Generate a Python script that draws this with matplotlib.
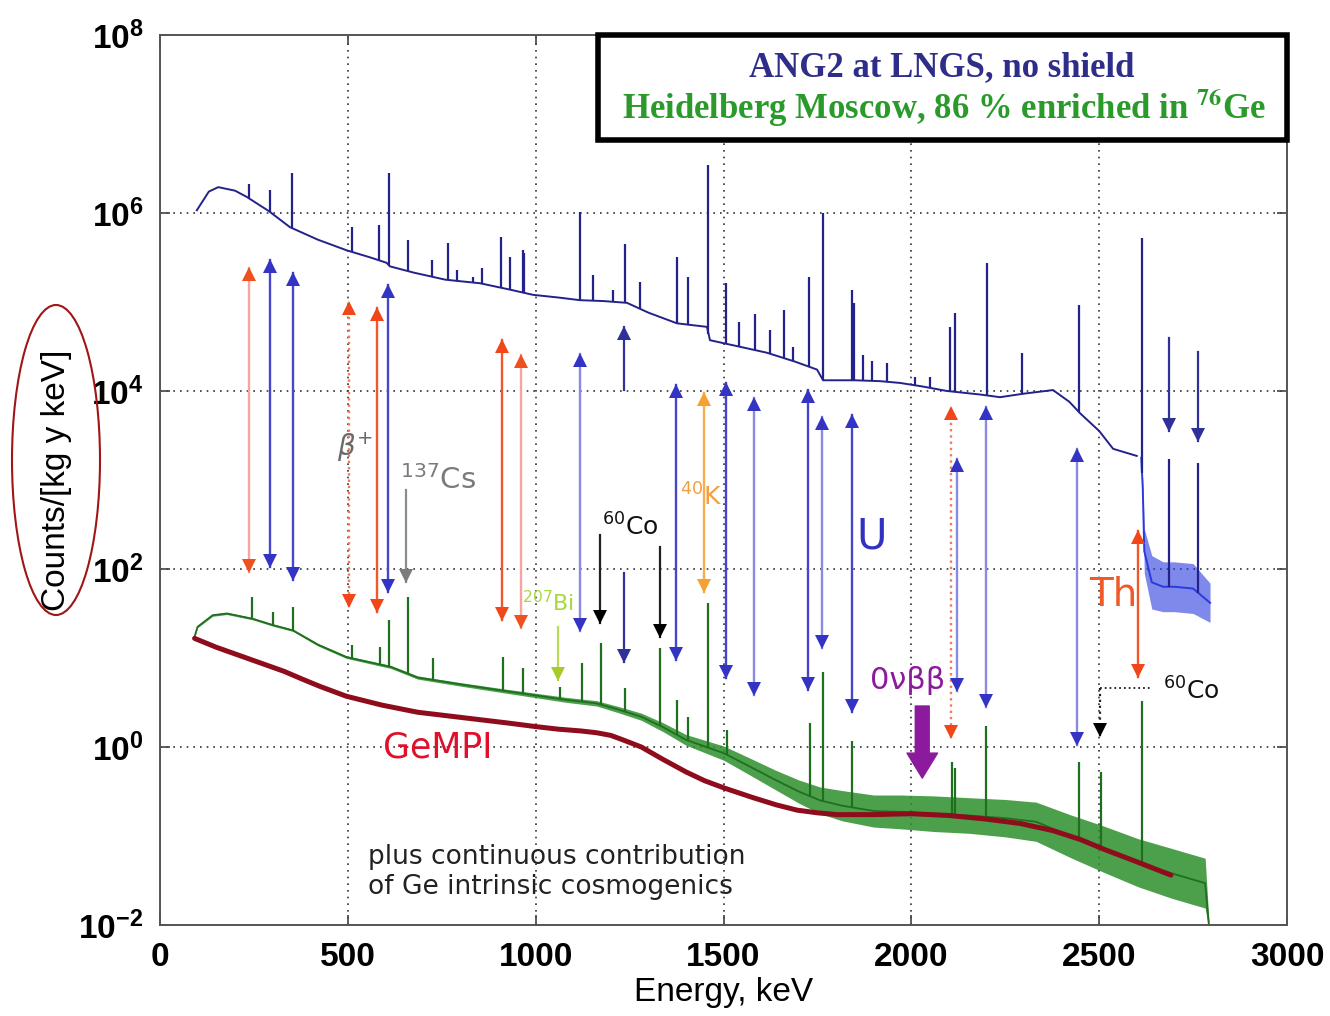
"""
Ge gamma spectra: ANG2 at LNGS (no shield) vs Heidelberg-Moscow, with the
GeMPI background curve and the usual line identifications.
Values are log10(counts / [kg y keV]) read off the original figure.
"""

import matplotlib
matplotlib.use("Agg")
import matplotlib.pyplot as plt
import numpy as np
from matplotlib.patches import Ellipse, Rectangle
from matplotlib.transforms import offset_copy


# ---- ANG2, no shield (blue) ------------------------------------------------
BLUE_CONT_E = [98, 130, 155, 200, 231, 290, 346, 420, 497, 560, 603, 612, 675,
               760, 852, 930, 993, 1060, 1118, 1180, 1243, 1300, 1376, 1456,
               1464, 1540, 1615, 1690, 1749, 1765, 1850, 1917, 1970, 2030, 2094,
               2183, 2236, 2300, 2377, 2420, 2449, 2500, 2537, 2600, 2612,
               2616, 2620, 2640, 2670, 2700, 2750, 2795]
BLUE_CONT_LOG = [6.03, 6.24, 6.29, 6.25, 6.18, 6.02, 5.84, 5.70, 5.58, 5.50,
                 5.44, 5.40, 5.33, 5.25, 5.21, 5.14, 5.08, 5.05, 5.02, 5.01,
                 4.99, 4.88, 4.76, 4.72, 4.57, 4.50, 4.43, 4.33, 4.24, 4.12,
                 4.12, 4.11, 4.09, 4.05, 4.00, 3.96, 3.93, 3.97, 4.01, 3.88,
                 3.75, 3.55, 3.35, 3.27, 3.25,
                 2.90, 2.20, 1.85, 1.80, 1.80, 1.78, 1.62]
BLUE_NOISE = [0.0] * 45 + [0.10, 0.25, 0.30, 0.28, 0.28, 0.28, 0.22]
BLUE_PEAK_E = [237, 293, 351, 511, 583, 609, 660, 725, 766, 790, 834, 857, 909,
               932, 965, 970, 1118, 1153, 1206, 1238, 1278, 1376, 1406, 1460,
               1507, 1540, 1584, 1624, 1660, 1686, 1728, 1764, 1842, 1848, 1872,
               1894, 1935, 2010, 2050, 2103, 2116, 2201, 2295, 2447, 2614,
               2686, 2763]
BLUE_PEAK_LOG = [6.32, 6.26, 6.45, 5.84, 5.87, 6.45, 5.70, 5.47, 5.66, 5.36,
                 5.28, 5.38, 5.73, 5.51, 5.58, 5.55, 6.01, 5.30, 5.13, 5.65,
                 5.22, 5.51, 5.28, 6.54, 5.21, 4.78, 4.87, 4.69, 4.91, 4.49,
                 5.28, 6.00, 5.13, 4.99, 4.40, 4.34, 4.31, 4.16, 4.16, 4.72,
                 4.88, 5.44, 4.43, 4.97, 5.72, 3.24, 3.19]

# ---- Heidelberg-Moscow (green) ---------------------------------------------
GREEN_CONT_E = [92, 100, 140, 178, 247, 300, 354, 420, 496, 560, 614, 686, 805,
                900, 998, 1080, 1162, 1220, 1281, 1340, 1400, 1501, 1570, 1638,
                1700, 1757, 1816, 1900, 1973, 2060, 2153, 2250, 2332, 2422,
                2513, 2603, 2693, 2782, 2792]
GREEN_CONT_LOG = [1.24, 1.35, 1.48, 1.50, 1.44, 1.37, 1.31, 1.15, 1.01, 0.95,
                  0.90, 0.78, 0.70, 0.64, 0.58, 0.53, 0.49, 0.42, 0.34, 0.22,
                  0.08, -0.07, -0.22, -0.37, -0.50, -0.60, -0.66, -0.72, -0.73,
                  -0.75, -0.77, -0.80, -0.84, -1.00, -1.15, -1.30, -1.42,
                  -1.53, -2.00]
GREEN_NOISE = [0.010, 0.010, 0.012, 0.012, 0.012, 0.012, 0.012, 0.014, 0.015,
               0.016, 0.017, 0.018, 0.020, 0.022, 0.025, 0.028, 0.030, 0.035,
               0.040, 0.050, 0.060, 0.080, 0.095, 0.11, 0.13, 0.15, 0.17,
               0.18, 0.19, 0.20, 0.20, 0.21, 0.22, 0.24, 0.26, 0.27, 0.28,
               0.28, 0.05]
GREEN_PEAK_E = [244, 301, 355, 511, 586, 610, 661, 727, 914, 967, 1065, 1122,
                1173, 1238, 1332, 1376, 1406, 1459, 1509, 1730, 1764, 1843,
                2109, 2117, 2199, 2447, 2505, 2614]
GREEN_PEAK_LOG = [1.69, 1.52, 1.57, 1.15, 1.12, 1.43, 1.69, 1.00, 1.01, 0.89,
                  0.67, 0.94, 1.17, 0.66, 1.11, 0.53, 0.34, 1.62, 0.19, 0.27,
                  0.84, 0.07, -0.17, -0.24, 0.24, -0.17, -0.28, 0.52]

# ---- GeMPI background (dark red) -------------------------------------------
GEMPI_E = [92, 150, 210, 270, 330, 380, 426, 496, 591, 686, 805, 924, 998,
           1060, 1120, 1162, 1200, 1232, 1281, 1339, 1400, 1450, 1501, 1579,
           1640, 1696, 1750, 1802, 1900, 2000, 2100, 2198, 2290, 2377, 2450,
           2513, 2600, 2691]
GEMPI_LOG = [1.22, 1.12, 1.03, 0.94, 0.85, 0.76, 0.68, 0.57, 0.47, 0.39, 0.33,
             0.27, 0.23, 0.20, 0.18, 0.16, 0.13, 0.08, 0.00, -0.14, -0.28,
             -0.38, -0.46, -0.57, -0.65, -0.71, -0.74, -0.76, -0.76, -0.75,
             -0.77, -0.81, -0.86, -0.94, -1.04, -1.15, -1.29, -1.44]

# ---- double-headed line markers (energy, low end, high end, kind) ----------
ARROW_E = [237, 293, 354, 503, 578, 607, 911, 961, 1118, 1374, 1448, 1507,
           1580, 1725, 1762, 1842, 2105, 2121, 2199, 2441, 2603]
ARROW_LOW = [1.97, 2.02, 1.88, 1.57, 1.52, 1.74, 1.43, 1.34, 1.30, 0.98, 1.74,
             0.78, 0.58, 0.64, 1.11, 0.39, 0.10, 0.63, 0.45, 0.02, 0.79]
ARROW_HIGH = [5.38, 5.47, 5.33, 5.00, 4.93, 5.19, 4.57, 4.40, 4.42, 4.07, 3.98,
              4.09, 3.92, 4.01, 3.71, 3.73, 3.82, 3.24, 3.82, 3.35, 2.43]
ARROW_KIND = ["pale", "blue", "blue", "reddot", "red", "blue", "red", "pale",
              "paleblue", "blue", "orange", "blue", "paleblue", "blue",
              "paleblue", "blue", "reddot", "paleblue", "paleblue", "paleblue",
              "red"]

# ---- single pointers (energy, start, head, kind) ---------------------------
POINTER_E = [655, 1060, 1171, 1235, 1235, 1331, 2502, 2686, 2763]
POINTER_FROM = [2.89, 1.35, 2.38, 4.01, 1.96, 2.25, 0.66, 4.60, 4.44]
POINTER_TO = [1.85, 0.75, 1.39, 4.72, 0.95, 1.24, 0.12, 3.55, 3.44]
POINTER_KIND = ["gray", "lime", "black", "navy", "navy", "black", "blackdot",
                "navy", "navy"]

# 0vbb region
BB_E = 2029
BB_FROM, BB_TO = 0.46, -0.35
CO60_LINK_E = [2502, 2635]
CO60_LINK_LOG = 0.66

XTICKS = [0, 500, 1000, 1500, 2000, 2500, 3000]
YTICK_EXP = [-2, 0, 2, 4, 6, 8]

STYLES = {
    "red": ("#f0582a", "#f0461a", "-"),
    "pale": ("#f4a69e", "#f0501e", "-"),
    "reddot": ("#f07a5a", "#f0461a", ":"),
    "blue": ("#4646cc", "#3434c4", "-"),
    "paleblue": ("#8a8ae2", "#3434c4", "-"),
    "navy": ("#30309a", "#30309a", "-"),
    "orange": ("#f5ad50", "#f5a030", "-"),
    "gray": ("#8c8c8c", "#7c7c7c", "-"),
    "black": ("#202020", "#000000", "-"),
    "blackdot": ("#202020", "#000000", ":"),
    "lime": ("#bcdc58", "#a6cc2c", "-"),
}

NAVY = "#22228a"
TAIL_BLUE = "#2a3ade"
GREEN_LINE = "#1f6f1f"
GREEN_FILL = "#2d8f2d"
GEMPI_RED = "#8e0c1c"


def head(ax, fig, e, logy, up, color):
    """Triangle head with its tip on (e, 10**logy)."""
    shift = -6 if up else 6
    tr = offset_copy(ax.transData, fig=fig, y=shift, units="dots")
    ax.plot([e], [10 ** logy], marker="^" if up else "v", ms=10, color=color,
            mew=0, transform=tr, zorder=6)


def main():
    fig = plt.figure(figsize=(13.3, 10.16), dpi=100)
    ax = fig.add_axes([0.1203, 0.0896, 0.8474, 0.876])
    ax.set_yscale("log")
    ax.set_xlim(0, 3000)
    ax.set_ylim(1e-2, 1e8)

    # green spectrum: noise band + continuum + lines
    g_e = np.array(GREEN_CONT_E, dtype=float)
    g_c = np.array(GREEN_CONT_LOG)
    g_n = np.array(GREEN_NOISE)
    ax.fill_between(g_e, 10 ** (g_c - g_n), 10 ** (g_c + g_n), color=GREEN_FILL,
                    lw=0, alpha=0.85, zorder=2)
    ax.plot(g_e, 10 ** g_c, color=GREEN_LINE, lw=1.3, zorder=2)
    g_base = np.interp(GREEN_PEAK_E, g_e, g_c)
    ax.vlines(GREEN_PEAK_E, 10 ** g_base, 10 ** np.array(GREEN_PEAK_LOG),
              color=GREEN_LINE, lw=1.6, zorder=2)

    # GeMPI
    ax.plot(GEMPI_E, 10 ** np.array(GEMPI_LOG), color=GEMPI_RED, lw=3.6,
            solid_capstyle="round", solid_joinstyle="round", zorder=3)

    # blue spectrum
    b_e = np.array(BLUE_CONT_E, dtype=float)
    b_c = np.array(BLUE_CONT_LOG)
    b_n = np.array(BLUE_NOISE)
    tail = b_e >= 2612
    ax.fill_between(b_e[tail], 10 ** (b_c[tail] - b_n[tail]),
                    10 ** (b_c[tail] + b_n[tail]), color=TAIL_BLUE, lw=0,
                    alpha=0.6, zorder=2)
    ax.plot(b_e[~tail], 10 ** b_c[~tail], color=NAVY, lw=1.4, zorder=3)
    ax.plot(b_e[tail], 10 ** b_c[tail], color=TAIL_BLUE, lw=1.4, zorder=3)
    b_base = np.interp(BLUE_PEAK_E, b_e, b_c)
    ax.vlines(BLUE_PEAK_E, 10 ** b_base, 10 ** np.array(BLUE_PEAK_LOG),
              color=NAVY, lw=1.6, zorder=3)

    # double-headed arrows
    for e, lo, hi, kind in zip(ARROW_E, ARROW_LOW, ARROW_HIGH, ARROW_KIND):
        shaft, tip, ls = STYLES[kind]
        ax.plot([e, e], [10 ** lo, 10 ** hi], color=shaft, lw=1.7, ls=ls, zorder=5)
        head(ax, fig, e, hi, True, tip)
        head(ax, fig, e, lo, False, tip)

    for e, a, b, kind in zip(POINTER_E, POINTER_FROM, POINTER_TO, POINTER_KIND):
        shaft, tip, ls = STYLES[kind]
        ax.plot([e, e], [10 ** a, 10 ** b], color=shaft, lw=1.6, ls=ls, zorder=5)
        head(ax, fig, e, b, b > a, tip)

    ax.plot(CO60_LINK_E, [10 ** CO60_LINK_LOG] * 2, color="#202020", lw=1.3,
            ls=":", zorder=5)

    ax.annotate("", xy=(BB_E, 10 ** BB_TO), xytext=(BB_E, 10 ** BB_FROM),
                arrowprops=dict(arrowstyle="simple,head_length=0.9,head_width=1.1,tail_width=0.5",
                                color="#8c1a9c", mutation_scale=20,
                                shrinkA=0, shrinkB=0), zorder=6)

    # labels inside the plot
    ax.text(519, 10 ** 3.37, r"$\beta^{+}$", color="#6a6a6a", fontsize=20,
            ha="center", va="center", zorder=7)
    ax.text(639, 10 ** 3.0, r"$^{137}$Cs", color="#7a7a7a", fontsize=21,
            ha="left", va="center", zorder=7)
    ax.text(964, 10 ** 1.62, r"$^{207}$Bi", color="#a8d840", fontsize=16,
            ha="left", va="center", zorder=7)
    ax.text(1177, 10 ** 2.47, r"$^{60}$Co", color="#111111", fontsize=18,
            ha="left", va="center", zorder=7)
    ax.text(1384, 10 ** 2.81, r"$^{40}$K", color="#f2a040", fontsize=18,
            ha="left", va="center", zorder=7)
    ax.text(1893, 10 ** 2.36, "U", color="#3232c0", fontsize=30,
            ha="center", va="center", zorder=7)
    ax.text(2537, 10 ** 1.71, "Th", color="#f05a28", fontsize=28,
            ha="center", va="center", zorder=7)
    ax.text(1989, 10 ** 0.75, "0νββ", color="#8c1a9c", fontsize=22,
            ha="center", va="center", zorder=7)
    ax.text(2670, 10 ** 0.63, r"$^{60}$Co", color="#111111", fontsize=18,
            ha="left", va="center", zorder=7)
    ax.text(740, 10 ** -0.01, "GeMPI", color="#e0102c", fontsize=25,
            ha="center", va="center", zorder=7)
    ax.text(554, 10 ** -1.40,
            "plus continuous contribution\nof Ge intrinsic cosmogenics",
            color="#222222", fontsize=19, ha="left", va="center",
            linespacing=1.2, zorder=7)

    # axes cosmetics
    ax.set_xticks(XTICKS, labels=[str(t) for t in XTICKS], fontsize=24,
                  fontweight="bold", family="Liberation Sans")
    ax.set_yticks([10.0 ** k for k in YTICK_EXP],
                  labels=[r"$\mathdefault{10^{%d}}$" % k for k in YTICK_EXP],
                  fontsize=24, fontweight="bold", family="Liberation Sans")
    ax.minorticks_off()
    ax.tick_params(direction="in", length=7, width=1.2, color="#444444",
                   top=True, right=True, pad=12)
    ax.grid(True, which="major", color="#333333", ls=(0, (1, 3)), lw=1.2)
    for sp in ax.spines.values():
        sp.set_color("#555555")
        sp.set_linewidth(1.4)

    fig.text(0.5437, 1 - 993 / 1016, "Energy, keV", fontsize=24,
             family="Liberation Sans", ha="center", va="center")
    fig.text(57 / 1330, 1 - 480 / 1016, "Counts/[kg y keV]", fontsize=24,
             family="Liberation Sans", rotation=90, ha="center", va="center")
    fig.patches.append(Ellipse((56 / 1330, 1 - 460 / 1016), 88 / 1330,
                               310 / 1016, transform=fig.transFigure,
                               fill=False, edgecolor="#a01515", lw=1.5))

    # legend box
    fig.patches.append(Rectangle((598 / 1330, 1 - 140 / 1016), 689 / 1330,
                                 105 / 1016, transform=fig.transFigure,
                                 facecolor="white", edgecolor="black", lw=4,
                                 zorder=10))
    fig.text(942 / 1330, 1 - 68 / 1016, "ANG2 at LNGS, no shield",
             family="Liberation Serif", fontweight="bold", fontsize=25,
             color="#2e2e8a", ha="center", va="center", zorder=11)
    fig.text(944 / 1330, 1 - 108 / 1016,
             r"Heidelberg Moscow, 86 % enriched in $^{\mathbf{76}}$Ge",
             family="Liberation Serif", fontweight="bold", fontsize=25,
             color="#2a9a2a", ha="center", va="center", zorder=11,
             math_fontfamily="stix")

    fig.savefig("out.png", dpi=100, facecolor="white")
    plt.close(fig)


if __name__ == "__main__":
    main()
